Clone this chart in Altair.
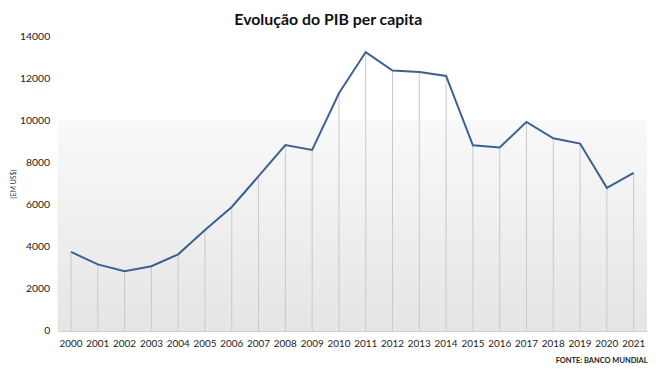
import altair as alt
import pandas as pd

years = [str(y) for y in range(2000, 2022)]
gdp = [3750, 3157, 2829, 3070, 3637, 4790, 5886, 7348, 8831, 8598, 11286,
       13245, 12370, 12300, 12113, 8814, 8710, 9928, 9151, 8897, 6796, 7507]
y_ticks = [0, 2000, 4000, 6000, 8000, 10000, 12000, 14000]

df = pd.DataFrame({"ano": years, "pib": gdp})
bg = pd.DataFrame({"top": [10000], "bottom": [0]})

FONT = "Lato"

x_enc = alt.X("ano:O", sort=years,
              scale=alt.Scale(paddingInner=0, paddingOuter=0),
              axis=alt.Axis(title="FONTE: BANCO MUNDIAL", labelAngle=0, ticks=False,
                            labelPadding=8, labelFontSize=10, labelColor="#222222",
                            labelFont=FONT, domainColor="#c8c8c8",
                            titleFont=FONT, titleFontSize=7.5, titleFontWeight="bold",
                            titleColor="#222222", titleAnchor="end", titleAlign="right",
                            titlePadding=8))
y_scale = alt.Scale(domain=[0, 14000], nice=False)
y_axis = alt.Axis(title="(EM US$)", values=y_ticks, format="d", grid=False, domain=False,
                  ticks=False, labelPadding=8, labelFontSize=10.5, labelColor="#222222",
                  labelFont=FONT, titleFont=FONT, titleFontSize=7, titleFontWeight="normal",
                  titleColor="#333333", titlePadding=3)

background = alt.Chart(bg).mark_rect(
    fill=alt.Gradient(gradient="linear", x1=0, x2=0, y1=0, y2=1,
                      stops=[alt.GradientStop(color="#f9f9f9", offset=0),
                             alt.GradientStop(color="#e5e5e5", offset=1)])
).encode(y=alt.Y("top:Q", scale=y_scale, axis=y_axis), y2="bottom:Q")

drops = alt.Chart(df).mark_rule(color="#c9c9c9", strokeWidth=1).encode(
    x=x_enc, y=alt.Y("pib:Q", scale=y_scale, axis=y_axis), y2=alt.datum(0))

line = alt.Chart(df).mark_line(color="#3b6190", strokeWidth=2).encode(
    x=x_enc, y=alt.Y("pib:Q", scale=y_scale, axis=y_axis))

chart = alt.layer(background, drops, line).properties(
    width=594, height=297,
    title=alt.TitleParams("Evolução do PIB per capita", font=FONT, fontSize=16,
                          fontWeight="bold", color="#111111", anchor="middle",
                          frame="bounds", offset=3),
    padding={"left": 1, "top": 3, "right": 5, "bottom": 0},
    background="white",
).configure_view(stroke=None)

chart.save("out.html", embed_options={"renderer": "svg", "actions": False})
